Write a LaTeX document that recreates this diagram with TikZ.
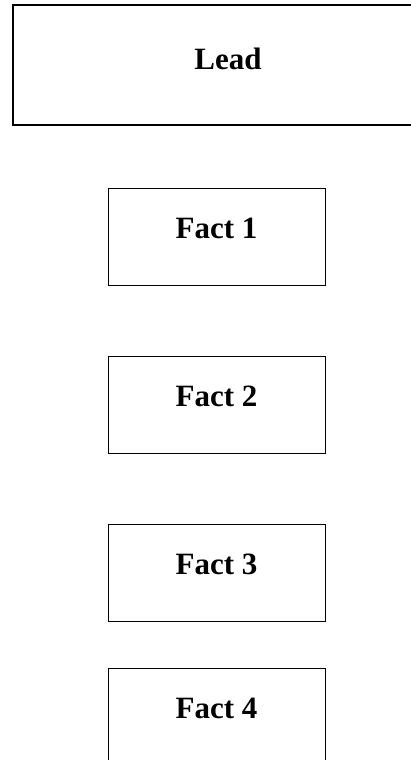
\documentclass[tikz,border=0pt]{standalone}
\usepackage{fontspec}
\setmainfont{Liberation Serif}
\begin{document}
\begin{tikzpicture}[x=1pt,y=-1pt,
  leadbox/.style={draw=black,line width=1.6pt,minimum width=430pt,minimum height=120pt,inner sep=0pt},
  factbox/.style={draw=black,line width=1pt,minimum width=217pt,minimum height=97pt,inner sep=0pt},
  lbl/.style={anchor=base,inner sep=0pt,font=\fontsize{31}{36}\selectfont\bfseries}]
\useasboundingbox (0,0) rectangle (411,760);
\begin{scope}
\clip (0,0) rectangle (411,760);
\node[leadbox] (lead) at (228,65) {};
\node[factbox] (f1) at (216.5,236.5) {};
\node[factbox] (f2) at (216.5,404.5) {};
\node[factbox] (f3) at (216.5,572.5) {};
\node[factbox] (f4) at (216.5,716.5) {};
\end{scope}
\node[lbl] (tlead) at (228,70) {Lead};
\node[lbl] (t1) at (216.5,238) {Fact 1};
\node[lbl] (t2) at (216.5,406.5) {Fact 2};
\node[lbl] (t3) at (216.5,574) {Fact 3};
\node[lbl] (t4) at (216.5,718) {Fact 4};
\end{tikzpicture}
\end{document}
